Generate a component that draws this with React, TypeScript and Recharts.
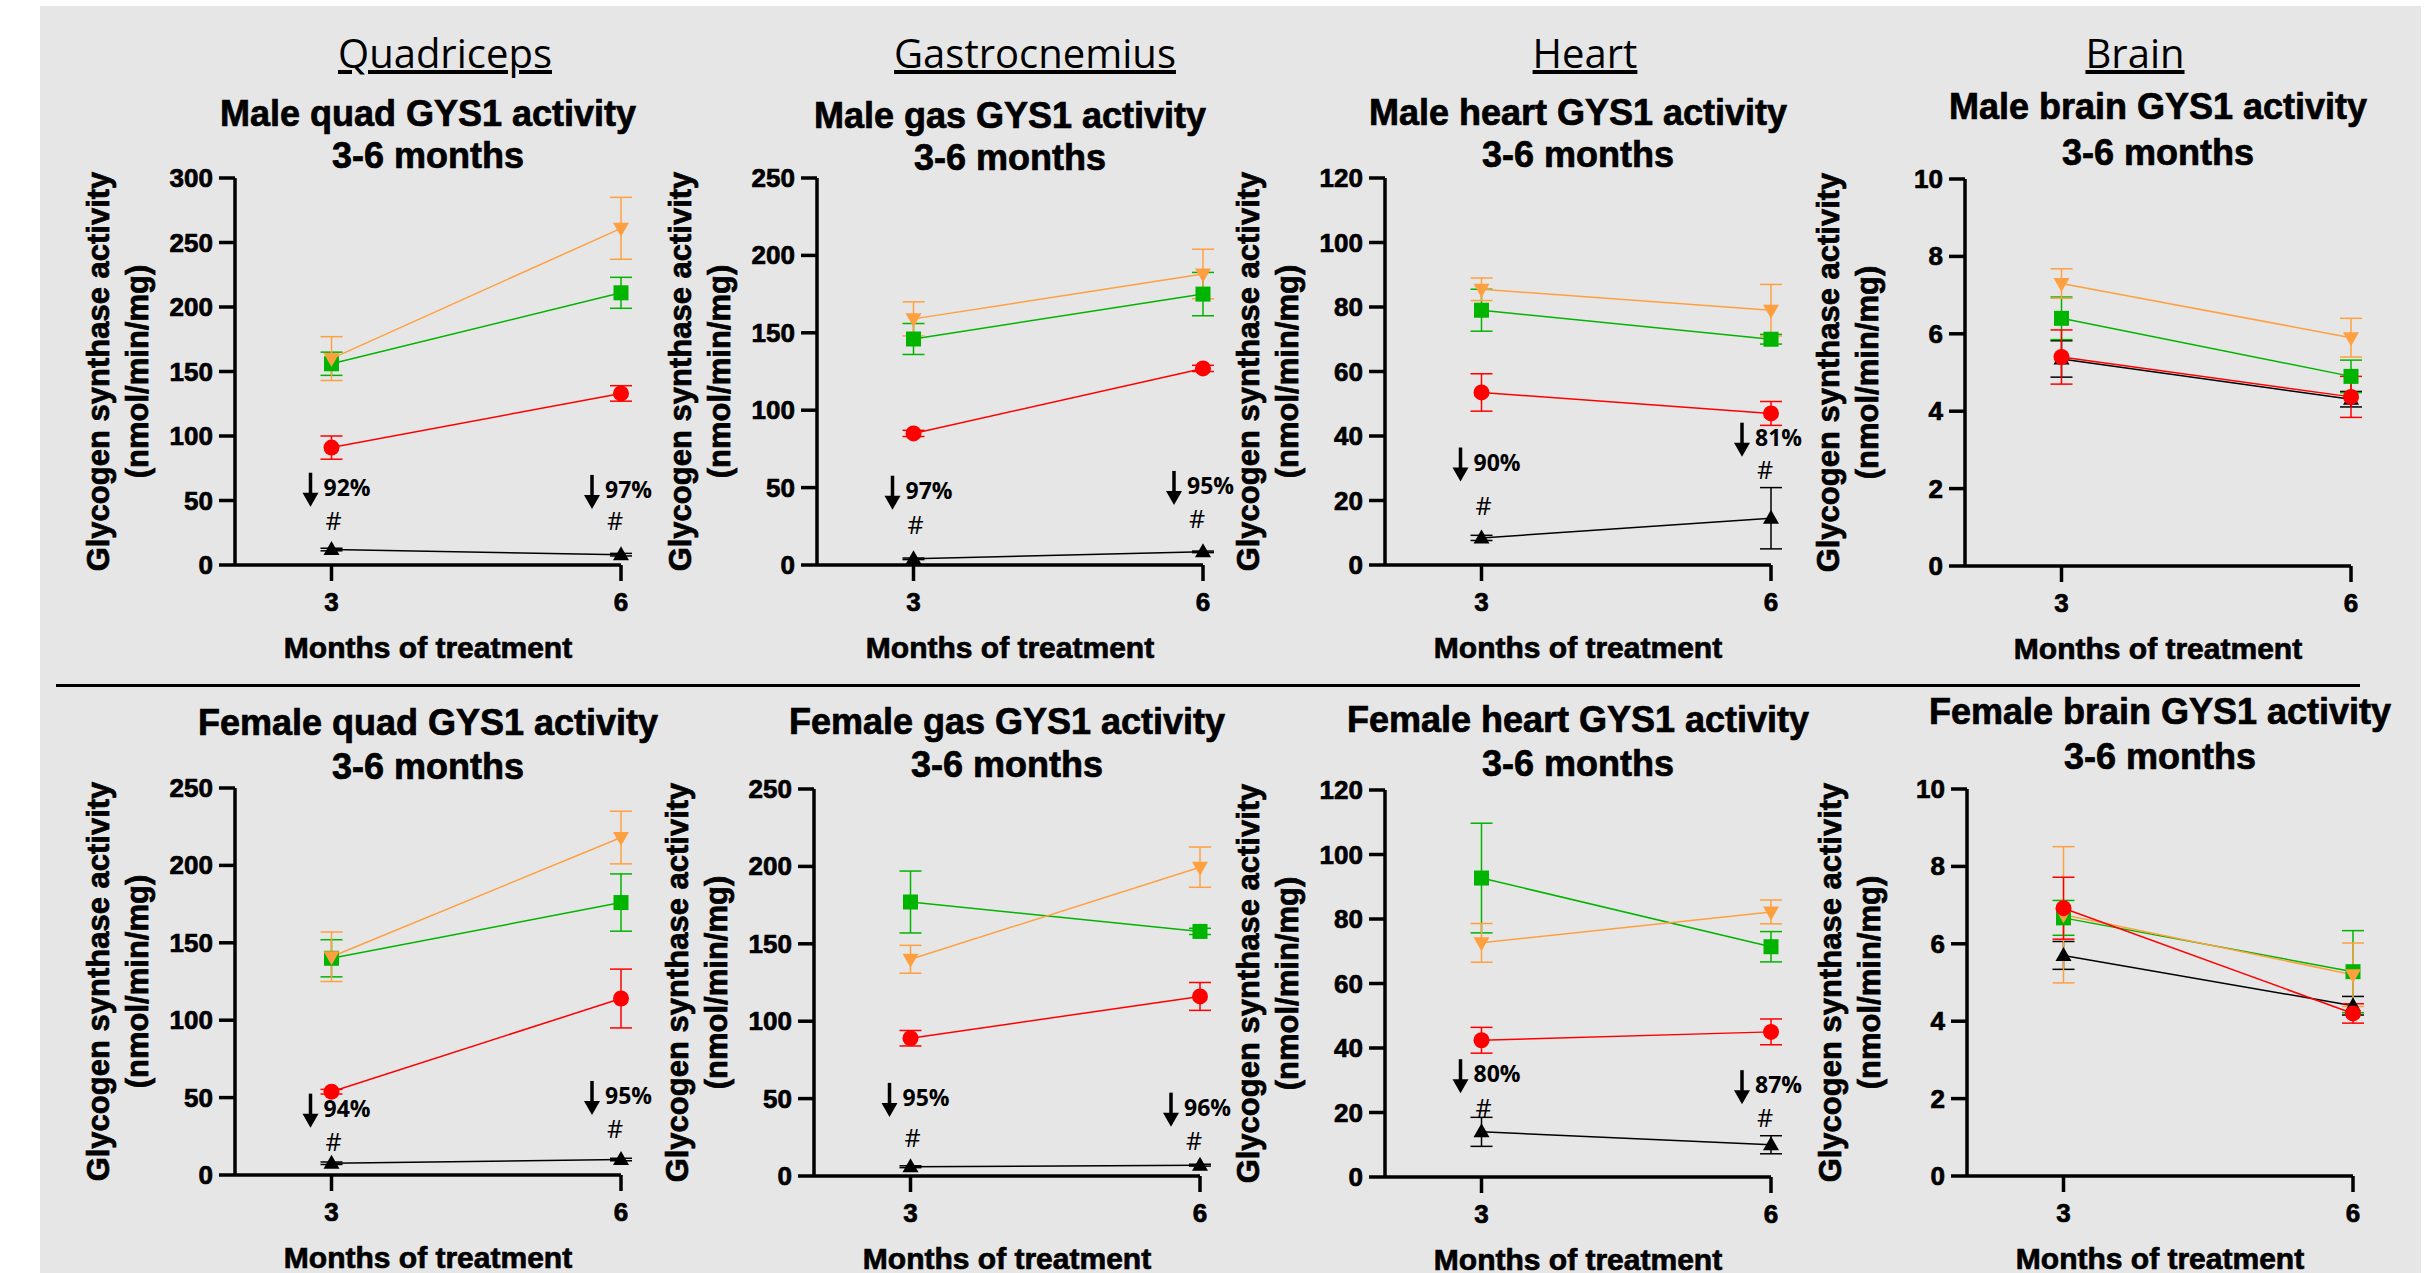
import React from 'react';
import { LineChart, Line, XAxis, YAxis, ErrorBar, ReferenceDot } from 'recharts';

const MONTHS = [3, 6];
const X_TICKS = [3, 6];

const TICKS_300 = [0, 50, 100, 150, 200, 250, 300];
const TICKS_250 = [0, 50, 100, 150, 200, 250];
const TICKS_120 = [0, 20, 40, 60, 80, 100, 120];
const TICKS_10 = [0, 2, 4, 6, 8, 10];

const HEADERS = ['Quadriceps', 'Gastrocnemius', 'Heart', 'Brain'];

// group means / SEM at 3 and 6 months
const maleQuadMean = { black: [12, 8], red: [91, 133], green: [156, 211], orange: [160, 261] };
const maleQuadSem = { black: [1, 1], red: [9, 6], green: [9, 12], orange: [17, 24] };
const maleGasMean = { black: [4, 8.5], red: [85, 127], green: [146, 175], orange: [159, 188] };
const maleGasSem = { black: [0.5, 0.5], red: [2, 2], green: [10, 14], orange: [11, 16] };
const maleHeartMean = { black: [8.4, 14.5], red: [53.5, 47], green: [79, 70], orange: [85.5, 79] };
const maleHeartSem = { black: [0.8, 9.5], red: [5.8, 3.7], green: [6.5, 1.5], orange: [3.5, 8] };
const maleBrainMean = { black: [5.35, 4.31], red: [5.4, 4.37], green: [6.4, 4.9], orange: [7.3, 5.9] };
const maleBrainSem = { black: [0.47, 0.2], red: [0.7, 0.53], green: [0.55, 0.42], orange: [0.38, 0.5] };

const femaleQuadMean = { black: [7.6, 10], red: [53.8, 114], green: [140, 176], orange: [141, 218] };
const femaleQuadSem = { black: [0.8, 0.8], red: [1.5, 19], green: [12, 18.5], orange: [16, 17] };
const femaleGasMean = { black: [6, 7], red: [89, 116], green: [177, 158], orange: [140, 199.5] };
const femaleGasSem = { black: [0.6, 0.6], red: [5, 9], green: [20, 2], orange: [9, 13] };
const femaleHeartMean = { black: [14, 10], red: [42.4, 45], green: [92.7, 71.4], orange: [72.6, 82.2] };
const femaleHeartSem = { black: [4.5, 2.8], red: [4, 4], green: [17, 4.7], orange: [6, 3.7] };
const femaleBrainMean = { black: [5.7, 4.4], red: [6.92, 4.2], green: [6.67, 5.28], orange: [6.75, 5.2] };
const femaleBrainSem = { black: [0.36, 0.24], red: [0.8, 0.25], green: [0.45, 1.06], orange: [1.76, 0.82] };

// reduction notes: [month, y of % text, y of #, text]
const maleQuadNotes = [[3, 53.7, 27, '92%'], [6, 52, 27, '97%']];
const maleGasNotes = [[3, 42.8, 20, '97%'], [6, 45.9, 23.9, '95%']];
const maleHeartNotes = [[3, 29.3, 15.5, '90%'], [6, 37, 26.7, '81%']];
const femaleQuadNotes = [[3, 37.7, 15.8, '94%'], [6, 45.9, 24, '95%']];
const femaleGasNotes = [[3, 45.3, 18.7, '95%'], [6, 39, 17, '96%']];
const femaleHeartNotes = [[3, 29.4, 18.5, '80%'], [6, 26, 15.4, '87%']];

const FONT = '"Liberation Sans", Arial, sans-serif';
const NOTE_FONT = '"Open Sans", sans-serif';
const COLORS = { black: '#000000', red: '#ff0000', green: '#00b400', orange: '#ffa040' };
const SERIES = ['black', 'green', 'orange', 'red'];

const PLOT_W = 386;
const PLOT_H = 387;

const PANELS = [
  { title: 'Male quad GYS1 activity', mean: maleQuadMean, sem: maleQuadSem, notes: maleQuadNotes, yMax: 300, ticks: TICKS_300, axisX: 235, plotTop: 178, titleY: [126, 168] },
  { title: 'Male gas GYS1 activity', mean: maleGasMean, sem: maleGasSem, notes: maleGasNotes, yMax: 250, ticks: TICKS_250, axisX: 817, plotTop: 178, titleY: [128, 170] },
  { title: 'Male heart GYS1 activity', mean: maleHeartMean, sem: maleHeartSem, notes: maleHeartNotes, yMax: 120, ticks: TICKS_120, axisX: 1385, plotTop: 178, titleY: [125, 167] },
  { title: 'Male brain GYS1 activity', mean: maleBrainMean, sem: maleBrainSem, notes: [], yMax: 10, ticks: TICKS_10, axisX: 1965, plotTop: 179, titleY: [119, 165] },
  { title: 'Female quad GYS1 activity', mean: femaleQuadMean, sem: femaleQuadSem, notes: femaleQuadNotes, yMax: 250, ticks: TICKS_250, axisX: 235, plotTop: 788, titleY: [735, 779] },
  { title: 'Female gas GYS1 activity', mean: femaleGasMean, sem: femaleGasSem, notes: femaleGasNotes, yMax: 250, ticks: TICKS_250, axisX: 814, plotTop: 789, titleY: [734, 777] },
  { title: 'Female heart GYS1 activity', mean: femaleHeartMean, sem: femaleHeartSem, notes: femaleHeartNotes, yMax: 120, ticks: TICKS_120, axisX: 1385, plotTop: 790, titleY: [732, 776] },
  { title: 'Female brain GYS1 activity', mean: femaleBrainMean, sem: femaleBrainSem, notes: [], yMax: 10, ticks: TICKS_10, axisX: 1967, plotTop: 789, titleY: [724, 769] },
];

const HEADER_X = [445, 1035, 1585, 2135];

function Marker({ cx, cy, kind }: any) {
  if (cx == null || cy == null) return null;
  const c = COLORS[kind as keyof typeof COLORS];
  if (kind === 'black') return <polygon points={`${cx},${cy - 8.5} ${cx - 8},${cy + 5.5} ${cx + 8},${cy + 5.5}`} fill={c} />;
  if (kind === 'red') return <circle cx={cx} cy={cy} r={8} fill={c} />;
  if (kind === 'green') return <rect x={cx - 7.5} y={cy - 7.5} width={15} height={15} fill={c} />;
  return <polygon points={`${cx - 8},${cy - 5.5} ${cx + 8},${cy - 5.5} ${cx},${cy + 8.5}`} fill={c} />;
}

function YTick({ x, y, payload }: any) {
  return (
    <text x={x} y={y} dy={9} textAnchor="end" fontSize={26} fontWeight={700} fontFamily={FONT} fill="#000" stroke="#000" strokeWidth={0.7}>
      {payload.value}
    </text>
  );
}

function XTick({ x, y, payload }: any) {
  return (
    <text x={x} y={y} dy={18} textAnchor="middle" fontSize={26} fontWeight={700} fontFamily={FONT} fill="#000" stroke="#000" strokeWidth={0.7}>
      {payload.value}
    </text>
  );
}

function PctNote({ cx, cy, text, month }: any) {
  const s = month === 6 ? -8 : 0;
  const ax = cx + s - 21;
  return (
    <g>
      <line x1={ax} y1={cy - 23} x2={ax} y2={cy - 1} stroke="#000" strokeWidth={3.5} />
      <polygon points={`${ax - 8},${cy - 3} ${ax + 8},${cy - 3} ${ax},${cy + 11}`} fill="#000" />
      <text x={cx + s - 8} y={cy} fontSize={23} fontWeight={700} fontFamily={NOTE_FONT} fill="#000">{text}</text>
    </g>
  );
}

function HashNote({ cx, cy, month }: any) {
  const s = month === 6 ? -6 : 2;
  return (
    <text x={cx + s} y={cy} textAnchor="middle" fontSize={25} fontWeight={500} fontFamily={NOTE_FONT} fill="#000">#</text>
  );
}

function Panel({ p }: any) {
  const rows = MONTHS.map((m, i) => {
    const row: any = { month: m };
    SERIES.forEach((k) => {
      row[k] = p.mean[k][i];
      row[k + 'Err'] = p.sem[k][i];
    });
    return row;
  });
  const axisStyle = { stroke: '#000', strokeWidth: 3.5 };
  return (
    <div style={{ position: 'absolute', left: p.axisX - 80, top: p.plotTop - 20 }}>
      <LineChart width={80 + PLOT_W + 50} height={20 + PLOT_H + 70} data={rows} margin={{ top: 20, right: 50, bottom: 10, left: 20 }}>
        <XAxis
          type="number"
          dataKey="month"
          domain={[2, 6]}
          ticks={X_TICKS}
          interval={0}
          height={60}
          tickSize={16}
          tickMargin={12}
          axisLine={axisStyle}
          tickLine={axisStyle}
          tick={<XTick />}
        />
        <YAxis
          type="number"
          domain={[0, p.yMax]}
          ticks={p.ticks}
          interval={0}
          width={60}
          tickSize={16}
          tickMargin={6}
          axisLine={axisStyle}
          tickLine={axisStyle}
          tick={<YTick />}
        />
        {SERIES.map((k) => (
          <Line
            key={k}
            type="linear"
            dataKey={k}
            stroke={COLORS[k as keyof typeof COLORS]}
            strokeWidth={1.5}
            isAnimationActive={false}
            activeDot={false}
            dot={(d: any) => <Marker key={`${k}-${d.index}`} cx={d.cx} cy={d.cy} kind={k} />}
          >
            <ErrorBar dataKey={k + 'Err'} width={11} stroke={COLORS[k as keyof typeof COLORS]} strokeWidth={1.5} direction="y" isAnimationActive={false} />
          </Line>
        ))}
        {p.notes.map((n: any) => (
          <ReferenceDot
            key={`pct-${n[0]}`}
            x={n[0]}
            y={n[1]}
            r={0}
            ifOverflow="visible"
            shape={(sp: any) => <PctNote cx={sp.cx} cy={sp.cy} text={n[3]} month={n[0]} />}
          />
        ))}
        {p.notes.map((n: any) => (
          <ReferenceDot
            key={`hash-${n[0]}`}
            x={n[0]}
            y={n[2]}
            r={0}
            ifOverflow="visible"
            shape={(sp: any) => <HashNote cx={sp.cx} cy={sp.cy} month={n[0]} />}
          />
        ))}
      </LineChart>
    </div>
  );
}

export default function App() {
  return (
    <div style={{ position: 'absolute', left: 0, top: 0, width: 2434, height: 1273, background: '#fff', overflow: 'hidden' }}>
      <div style={{ position: 'absolute', left: 40, top: 6, width: 2381, height: 1267, background: '#e6e6e6' }} />
      {PANELS.map((p, i) => <Panel key={i} p={p} />)}
      <svg width={2434} height={1273} style={{ position: 'absolute', left: 0, top: 0, pointerEvents: 'none' }}>
        {HEADERS.map((h, i) => (
          <text key={h} x={HEADER_X[i]} y={68} textAnchor="middle" fontSize={40} fontFamily={NOTE_FONT} fill="#000" style={{ textDecoration: 'underline' }}>{h}</text>
        ))}
        <line x1={56} y1={685.5} x2={2360} y2={685.5} stroke="#000" strokeWidth={3} />
        {PANELS.map((p, i) => {
          const cx = p.axisX + PLOT_W / 2;
          const cy = p.plotTop + PLOT_H / 2;
          return (
            <g key={i} fontFamily={FONT} fontWeight={700} fill="#000" stroke="#000" strokeWidth={0.7}>
              <text x={cx} y={p.titleY[0]} textAnchor="middle" fontSize={36}>{p.title}</text>
              <text x={cx} y={p.titleY[1]} textAnchor="middle" fontSize={36}>3-6 months</text>
              <text x={cx} y={p.plotTop + PLOT_H + 93} textAnchor="middle" fontSize={30}>Months of treatment</text>
              <text transform={`translate(${p.axisX - 126}, ${cy}) rotate(-90)`} textAnchor="middle" fontSize={31}>Glycogen synthase activity</text>
              <text transform={`translate(${p.axisX - 87}, ${cy}) rotate(-90)`} textAnchor="middle" fontSize={31}>(nmol/min/mg)</text>
            </g>
          );
        })}
      </svg>
    </div>
  );
}
